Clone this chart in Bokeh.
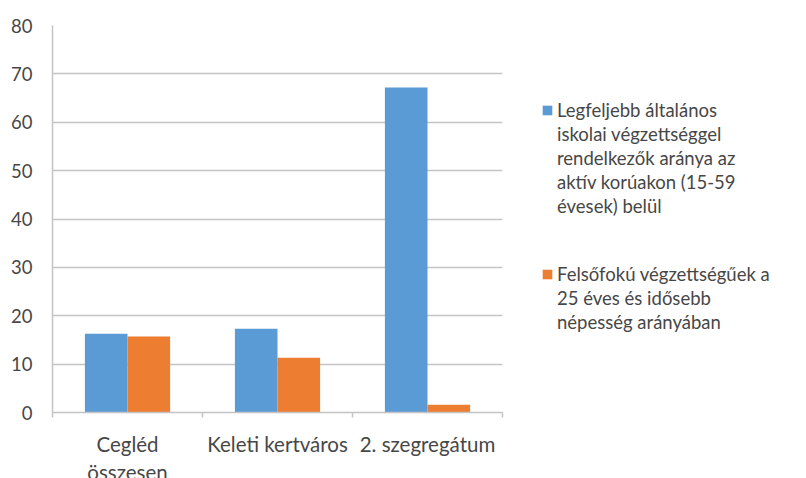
from bokeh.plotting import figure
from bokeh.models import ColumnDataSource, Range1d, FixedTicker, Legend, LegendItem
from bokeh.transform import dodge
from bokeh.embed import file_html
from bokeh.resources import INLINE

categories = ["Cegléd\nösszesen", "Keleti kertváros", "2. szegregátum"]
series1_lines = ["Legfeljebb általános", "iskolai végzettséggel",
                 "rendelkezők aránya az", "aktív korúakon (15-59", "évesek) belül"]
series2_lines = ["Felsőfokú végzettségűek a", "25 éves és idősebb",
                 "népesség arányában"]
basic_edu = [16.3, 17.3, 67.2]
higher_edu = [15.7, 11.3, 1.6]
y_ticks = [0, 10, 20, 30, 40, 50, 60, 70, 80]

FONT = "Lato"
TXT = "#474747"
GRID = "#c4c4c4"
BLUE = "#5b9bd5"
ORANGE = "#ed7d31"

src = ColumnDataSource(dict(x=[i + 0.5 for i in range(len(categories))],
                            a=basic_edu, b=higher_edu))

p = figure(frame_width=450, frame_height=387, output_backend="svg", toolbar_location=None,
           x_range=Range1d(0, len(categories)), y_range=Range1d(0, 80),
           min_border_left=52, min_border_right=304, min_border_top=25, min_border_bottom=66)
p.outline_line_color = None
p.background_fill_color = "white"

r1 = p.vbar(x=dodge("x", -0.142, range=p.x_range), top="a", width=0.284, source=src,
            fill_color=BLUE, line_color=None)
r2 = p.vbar(x=dodge("x", 0.142, range=p.x_range), top="b", width=0.284, source=src,
            fill_color=ORANGE, line_color=None)
# invisible renderer used only for the continuation lines of the legend
blank = p.vbar(x="x", top="a", width=0.01, source=src, fill_alpha=0, line_alpha=0)

p.xgrid.visible = False
p.ygrid.grid_line_color = GRID
p.ygrid.grid_line_width = 1.5

xa = p.xaxis[0]
xa.ticker = FixedTicker(ticks=[i + 0.5 for i in range(len(categories))],
                        minor_ticks=list(range(len(categories) + 1)))
xa.major_label_overrides = {i + 0.5: c for i, c in enumerate(categories)}
xa.major_tick_out = 0
xa.major_tick_in = 0
xa.minor_tick_out = 5
xa.minor_tick_in = 0
xa.minor_tick_line_color = GRID
xa.minor_tick_line_width = 1.5
xa.axis_line_color = GRID
xa.axis_line_width = 1.5
xa.major_label_text_font = FONT
xa.major_label_text_font_size = "20.5px"
xa.major_label_text_color = TXT
xa.major_label_text_line_height = 1.2
xa.major_label_standoff = 14

ya = p.yaxis[0]
ya.ticker = FixedTicker(ticks=y_ticks)
ya.major_tick_out = 0
ya.major_tick_in = 0
ya.minor_tick_out = 0
ya.minor_tick_in = 0
ya.axis_line_color = GRID
ya.axis_line_width = 1.5
ya.major_label_text_font = FONT
ya.major_label_text_font_size = "18.5px"
ya.major_label_text_color = TXT
ya.major_label_standoff = 20

items = [LegendItem(label=t, renderers=[r1 if i == 0 else blank])
         for i, t in enumerate(series1_lines)]
items.append(LegendItem(label="\u00a0\n\u00a0", renderers=[blank]))
items += [LegendItem(label=t, renderers=[r2 if i == 0 else blank])
          for i, t in enumerate(series2_lines)]

lg = Legend(items=items, location=(39, 78))
lg.border_line_color = None
lg.background_fill_alpha = 0
lg.label_text_font = FONT
lg.label_text_font_size = "18.5px"
lg.label_text_color = TXT
lg.label_text_line_height = 1.0
lg.glyph_width = 12
lg.glyph_height = 12
lg.label_height = 24
lg.label_standoff = 4
lg.spacing = 0
lg.margin = 0
lg.padding = 0
p.add_layout(lg, "right")

open("out.html", "w").write(file_html(p, INLINE))
